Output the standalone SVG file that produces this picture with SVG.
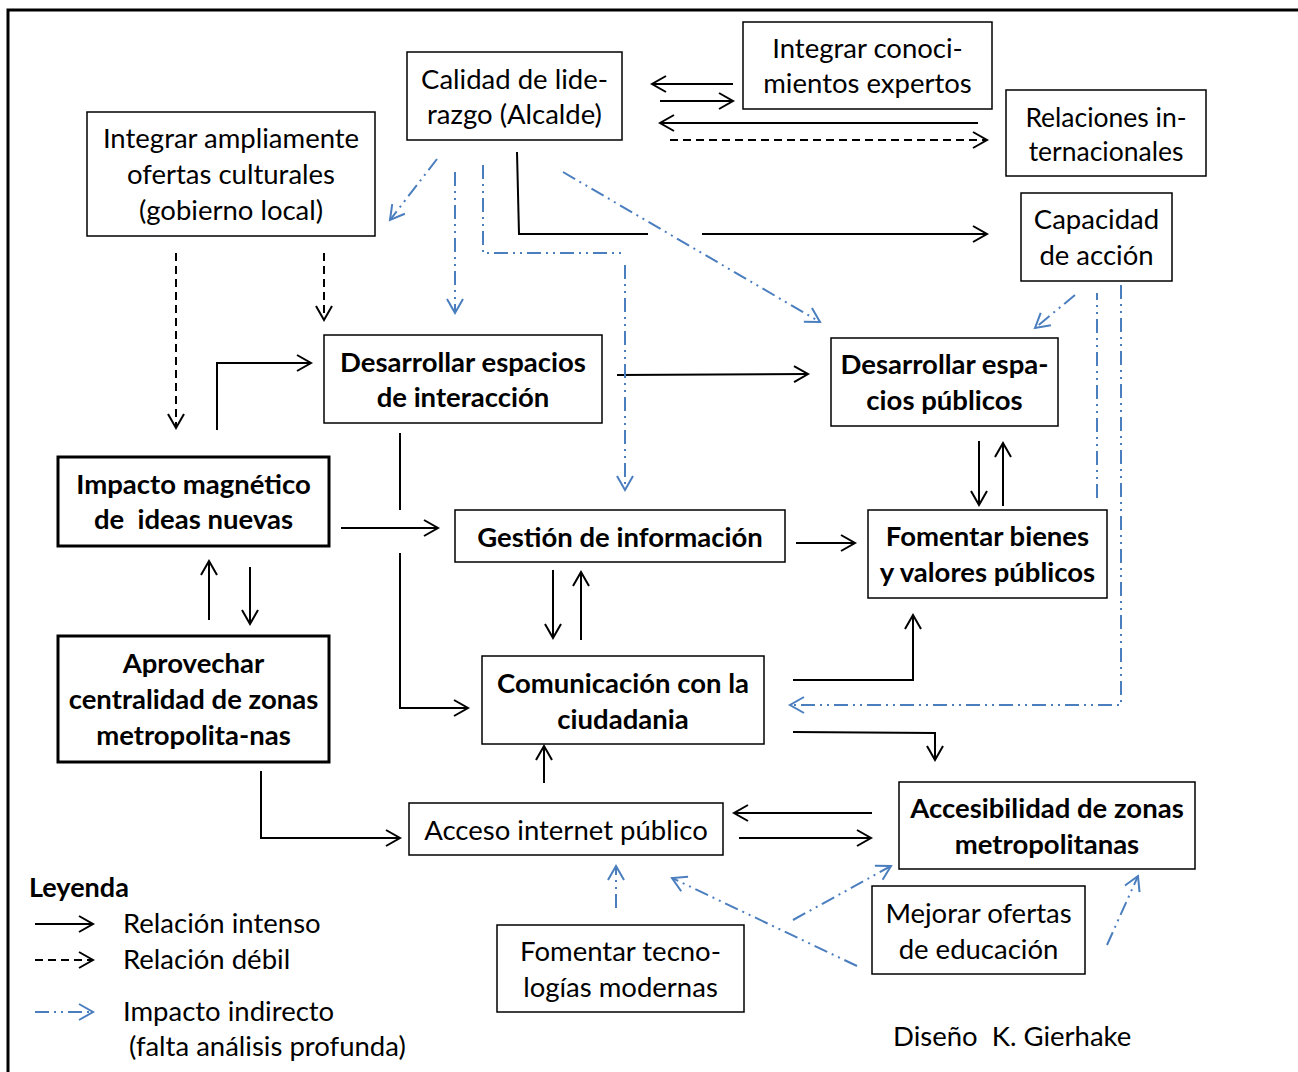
<svg xmlns="http://www.w3.org/2000/svg" width="1298" height="1072" viewBox="0 0 1298 1072">
<style>
text{font-family:Lato,"Liberation Sans",sans-serif;font-size:27.5px;fill:#000}
.c{text-anchor:middle}
.b{font-weight:bold}
.box{fill:#fff;stroke:#000;stroke-width:1.5}
.thick{stroke-width:3}
.s{fill:none;stroke:#000;stroke-width:2}
.d{fill:none;stroke:#000;stroke-width:2;stroke-dasharray:8 5}
.i{fill:none;stroke:#4A7EBF;stroke-width:2;stroke-dasharray:14 5 2 5 2 5}
</style>
<defs>
<marker id="ak" markerUnits="userSpaceOnUse" markerWidth="20" markerHeight="20" refX="15" refY="9" orient="auto"><path d="M1,1 L15,9 L1,17" fill="none" stroke="#000" stroke-width="2"/></marker>
<marker id="ab" markerUnits="userSpaceOnUse" markerWidth="20" markerHeight="20" refX="15" refY="9" orient="auto"><path d="M1,1 L15,9 L1,17" fill="none" stroke="#4A7EBF" stroke-width="2"/></marker>
</defs>
<rect width="1298" height="1072" fill="#fff"/>
<path d="M8,1072 V10 H1298" fill="none" stroke="#000" stroke-width="3"/>

<g id="connectors">
<line class="s" x1="733" y1="84" x2="652" y2="84" marker-end="url(#ak)"/>
<line class="s" x1="660" y1="101" x2="733" y2="101" marker-end="url(#ak)"/>
<line class="s" x1="978" y1="123" x2="660" y2="123" marker-end="url(#ak)"/>
<line class="d" x1="670" y1="140" x2="987" y2="140" marker-end="url(#ak)"/>
<polyline class="s" points="517,152 519,234 648,234"/>
<line class="s" x1="702" y1="234" x2="987" y2="234" marker-end="url(#ak)"/>
<line class="s" x1="617" y1="375" x2="808" y2="374" marker-end="url(#ak)"/>
<polyline class="s" points="217,430 217,363 311,363" marker-end="url(#ak)"/>
<line class="s" x1="341" y1="528" x2="438" y2="528" marker-end="url(#ak)"/>
<line class="s" x1="400" y1="433" x2="400" y2="510"/>
<polyline class="s" points="400,553 400,708 468,708" marker-end="url(#ak)"/>
<line class="s" x1="796" y1="543" x2="855" y2="543" marker-end="url(#ak)"/>
<line class="s" x1="553" y1="570" x2="553" y2="638" marker-end="url(#ak)"/>
<line class="s" x1="581" y1="640" x2="581" y2="572" marker-end="url(#ak)"/>
<line class="s" x1="979" y1="441" x2="979" y2="505" marker-end="url(#ak)"/>
<line class="s" x1="1003" y1="506" x2="1003" y2="443" marker-end="url(#ak)"/>
<line class="s" x1="209" y1="620" x2="209" y2="561" marker-end="url(#ak)"/>
<line class="s" x1="250" y1="567" x2="250" y2="624" marker-end="url(#ak)"/>
<polyline class="s" points="793,680 913,680 913,615" marker-end="url(#ak)"/>
<polyline class="s" points="793,732 935,733 935,760" marker-end="url(#ak)"/>
<line class="s" x1="544" y1="783" x2="544" y2="746" marker-end="url(#ak)"/>
<polyline class="s" points="261,771 261,838 400,838" marker-end="url(#ak)"/>
<line class="s" x1="872" y1="813" x2="734" y2="813" marker-end="url(#ak)"/>
<line class="s" x1="739" y1="838" x2="871" y2="838" marker-end="url(#ak)"/>
<line class="d" x1="176" y1="253" x2="176" y2="428" marker-end="url(#ak)"/>
<line class="d" x1="324" y1="253" x2="324" y2="320" marker-end="url(#ak)"/>
<line class="i" x1="437" y1="159" x2="390" y2="220" marker-end="url(#ab)"/>
<line class="i" x1="455" y1="172" x2="455" y2="313" marker-end="url(#ab)"/>
<polyline class="i" points="483,165 483,253 622,253"/>
<line class="i" x1="625" y1="265" x2="625" y2="490" marker-end="url(#ab)"/>
<line class="i" x1="563" y1="172" x2="820" y2="322" marker-end="url(#ab)"/>
<line class="i" x1="1075" y1="295" x2="1035" y2="328" marker-end="url(#ab)"/>
<line class="i" x1="1097" y1="498" x2="1097" y2="293"/>
<polyline class="i" points="1121,285 1121,705 790,705" marker-end="url(#ab)"/>
<line class="i" x1="616" y1="908" x2="616" y2="866" marker-end="url(#ab)"/>
<line class="i" x1="857" y1="966" x2="672" y2="878" marker-end="url(#ab)"/>
<line class="i" x1="793" y1="920" x2="891" y2="866" marker-end="url(#ab)"/>
<line class="i" x1="1107" y1="945" x2="1138" y2="876" marker-end="url(#ab)"/>
</g>

<g id="n-calidad"><rect class="box" x="407" y="52" width="215" height="88"/><text class="c" x="514.5" y="89">Calidad de lide-</text><text class="c" x="514.5" y="124">razgo (Alcalde)</text></g>
<g id="n-conocimientos"><rect class="box" x="743" y="22" width="249" height="87"/><text class="c" x="867.5" y="58">Integrar conoci-</text><text class="c" x="867.5" y="93">mientos expertos</text></g>
<g id="n-relaciones"><rect class="box" x="1006" y="90" width="200" height="86"/><text class="c" x="1106" y="127" style="font-size:26.5px">Relaciones in-</text><text class="c" x="1106" y="161" style="font-size:26.5px">ternacionales</text></g>
<g id="n-culturales"><rect class="box" x="87" y="112" width="288" height="124"/><text class="c" x="231" y="148">Integrar ampliamente</text><text class="c" x="231" y="184">ofertas culturales</text><text class="c" x="231" y="220">(gobierno local)</text></g>
<g id="n-capacidad"><rect class="box" x="1021" y="193" width="151" height="88"/><text class="c" x="1096.5" y="229">Capacidad</text><text class="c" x="1096.5" y="265">de acción</text></g>
<g id="n-interaccion"><rect class="box" x="324" y="335" width="278" height="88"/><text class="c b" x="463" y="372">Desarrollar espacios</text><text class="c b" x="463" y="407">de interacción</text></g>
<g id="n-publicos"><rect class="box" x="831" y="338" width="227" height="88"/><text class="c b" x="944.5" y="374">Desarrollar espa-</text><text class="c b" x="944.5" y="410">cios públicos</text></g>
<g id="n-impacto"><rect class="box thick" x="58" y="457" width="271" height="89"/><text class="c b" x="193.5" y="494">Impacto magnético</text><text class="c b" x="193.5" y="529" xml:space="preserve">de  ideas nuevas</text></g>
<g id="n-gestion"><rect class="box" x="455" y="510" width="330" height="52"/><text class="c b" x="620" y="547">Gestión de información</text></g>
<g id="n-bienes"><rect class="box" x="868" y="510" width="239" height="88"/><text class="c b" x="987.5" y="546">Fomentar bienes</text><text class="c b" x="987.5" y="582">y valores públicos</text></g>
<g id="n-centralidad"><rect class="box thick" x="58" y="636" width="271" height="126"/><text class="c b" x="193.5" y="673">Aprovechar</text><text class="c b" x="193.5" y="709">centralidad de zonas</text><text class="c b" x="193.5" y="745">metropolita-nas</text></g>
<g id="n-comunicacion"><rect class="box" x="482" y="656" width="282" height="88"/><text class="c b" x="623" y="693">Comunicación con la</text><text class="c b" x="623" y="729">ciudadania</text></g>
<g id="n-internet"><rect class="box" x="409" y="803" width="314" height="52"/><text class="c" x="566" y="840">Acceso internet público</text></g>
<g id="n-accesibilidad"><rect class="box" x="899" y="782" width="296" height="87"/><text class="c b" x="1047" y="818">Accesibilidad de zonas</text><text class="c b" x="1047" y="854">metropolitanas</text></g>
<g id="n-educacion"><rect class="box" x="872" y="886" width="213" height="88"/><text class="c" x="978.5" y="923">Mejorar ofertas</text><text class="c" x="978.5" y="959">de educación</text></g>
<g id="n-tecnologias"><rect class="box" x="497" y="925" width="247" height="87"/><text class="c" x="620.5" y="961">Fomentar tecno-</text><text class="c" x="620.5" y="997">logías modernas</text></g>

<g id="legend">
<text class="b" x="29" y="897" style="font-size:27px">Leyenda</text>
<line class="s" x1="35" y1="924" x2="93" y2="924" marker-end="url(#ak)"/>
<line class="d" x1="35" y1="960" x2="93" y2="960" marker-end="url(#ak)"/>
<line class="i" x1="35" y1="1012" x2="93" y2="1012" marker-end="url(#ab)"/>
<text x="123" y="933">Relación intenso</text>
<text x="123" y="969">Relación débil</text>
<text x="123" y="1021">Impacto indirecto</text>
<text x="129" y="1056">(falta análisis profunda)</text>
</g>
<text x="893" y="1046" xml:space="preserve">Diseño  K. Gierhake</text>
</svg>
